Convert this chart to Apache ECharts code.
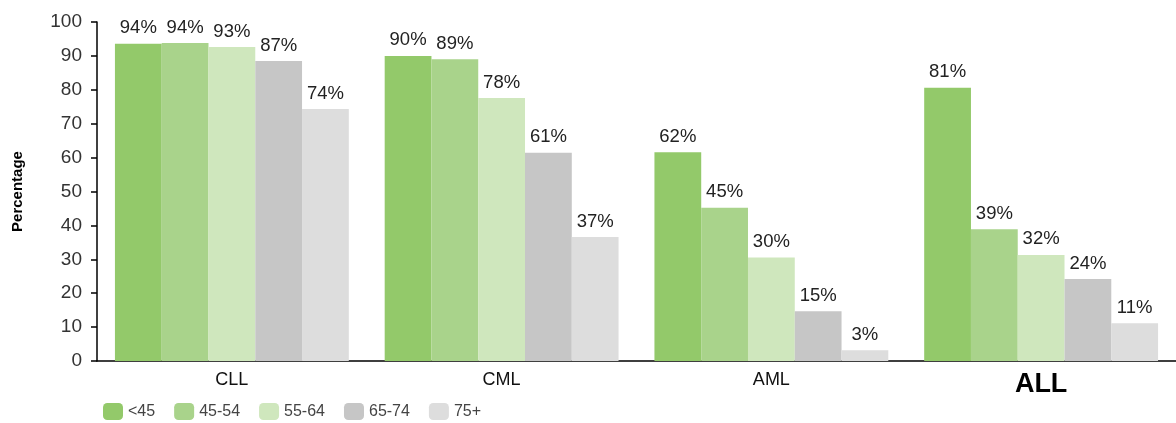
<!DOCTYPE html>
<html><head><meta charset="utf-8">
<script src="https://cdn.jsdelivr.net/npm/echarts@6/dist/echarts.min.js"></script>
<style>html,body{margin:0;padding:0;background:#fff}#c{width:1176px;height:423px}</style>
</head><body><div id="c"></div>
<script>
const categories = ['CLL', 'CML', 'AML', 'ALL'];
const seriesNames = ['<45', '45-54', '55-64', '65-74', '75+'];
const valuesLt45 = [93.6, 90.0, 61.6, 80.6];
const values45_54 = [93.8, 89.0, 45.2, 38.9];
const values55_64 = [92.6, 77.6, 30.5, 31.3];
const values65_74 = [88.5, 61.4, 14.7, 24.2];
const values75p = [74.3, 36.6, 3.2, 11.1];
const labelsLt45 = ['94%', '90%', '62%', '81%'];
const labels45_54 = ['94%', '89%', '45%', '39%'];
const labels55_64 = ['93%', '78%', '30%', '32%'];
const labels65_74 = ['87%', '61%', '15%', '24%'];
const labels75p = ['74%', '37%', '3%', '11%'];
const yTicks = [0, 10, 20, 30, 40, 50, 60, 70, 80, 90, 100];

const colors = ['#93C96A', '#A9D38B', '#CFE7BD', '#C6C6C6', '#DDDDDD'];
const allValues = [valuesLt45, values45_54, values55_64, values65_74, values75p];
const allLabels = [labelsLt45, labels45_54, labels55_64, labels65_74, labels75p];
const ff = 'Liberation Sans, Arial, sans-serif';

const chart = echarts.init(document.getElementById('c'));
chart.setOption({
  animation: false,
  textStyle: { fontFamily: ff },
  grid: { left: 97, right: 0, top: 22, bottom: 62 },
  legend: {
    bottom: 3, left: 103, padding: 0, itemWidth: 20, itemHeight: 17, itemGap: 19,
    textStyle: { fontSize: 16, color: '#444', fontFamily: ff },
    data: seriesNames
  },
  xAxis: {
    type: 'category', data: categories,
    axisLine: { lineStyle: { color: '#000', width: 1.5 } },
    axisTick: { show: false },
    axisLabel: {
      margin: 10, color: '#111', fontSize: 18,
      formatter: v => v === 'ALL' ? '{b|' + v + '}' : v,
      rich: { b: { fontSize: 27, fontWeight: 'bold', color: '#000', fontFamily: ff } }
    }
  },
  yAxis: {
    type: 'value', min: 0, max: 100, interval: 10,
    name: 'Percentage', nameLocation: 'middle', nameGap: 72, nameRotate: 90,
    nameTextStyle: { fontSize: 15, fontWeight: 'bold', color: '#000' },
    axisLine: { show: true, lineStyle: { color: '#000', width: 1.5 } },
    axisTick: { show: true, length: 6, lineStyle: { color: '#000', width: 1.5 } },
    splitLine: { show: false },
    axisLabel: { fontSize: 19, color: '#333', margin: 15,
      formatter: v => yTicks.includes(v) ? String(v) : '' }
  },
  series: seriesNames.map((n, i) => ({
    name: n, type: 'bar',
    barGap: '0%', barCategoryGap: '13.3%',
    itemStyle: { color: colors[i] },
    data: allValues[i].map((v, j) => ({
      value: v,
      label: { show: true, position: 'top', distance: 6, color: '#222', fontSize: 18.5,
        formatter: () => allLabels[i][j] }
    }))
  }))
});
</script></body></html>
